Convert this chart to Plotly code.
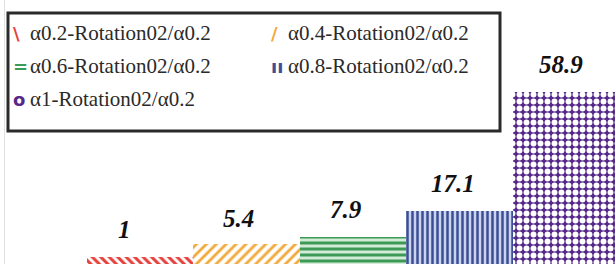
import plotly.graph_objects as go

categories = ["α0.2-Rotation02/α0.2", "α0.4-Rotation02/α0.2", "α0.6-Rotation02/α0.2",
              "α0.8-Rotation02/α0.2", "α1-Rotation02/α0.2"]
values = [1, 5.4, 7.9, 17.1, 58.9]
labels = ["1", "5.4", "7.9", "17.1", "58.9"]

BASE = -1.5  # bars start slightly below the visible baseline

fg_colors = ["#e5403a", "#f2a93b", "#3c9a56", "#3c4f96", "#ffffff"]
bg_colors = ["#ffffff", "#ffffff", "#d3ebd7", "#cbd4ec", "#55288a"]
shapes = ["\\", "/", "-", "|", "."]
sizes = [6, 7, 6, 5, 7]
solid = [0.5, 0.4, 0.5, 0.5, 0.55]
glyphs = ["\\", "/", "=", "ıı", "o"]
label_xshift = [-16, -8, -7, -7, -5]
label_yshift = [12, 10, 12, 12, 12]

fig = go.Figure()
for i, c in enumerate(categories):
    fig.add_trace(go.Bar(
        x=[c], y=[values[i] - BASE], base=BASE, name=c, showlegend=False,
        marker=dict(color=bg_colors[i], line=dict(width=0),
                    pattern=dict(shape=shapes[i], fgcolor=fg_colors[i], bgcolor=bg_colors[i],
                                 size=sizes[i], solidity=solid[i], fillmode="replace")),
    ))

for i, c in enumerate(categories):
    fig.add_annotation(x=c, y=values[i], text="<b><i>%s</i></b>" % labels[i], showarrow=False,
                       yanchor="bottom", yshift=label_yshift[i], xshift=label_xshift[i],
                       font=dict(family="Liberation Serif", size=25, color="#111"))

# legend box
fig.add_shape(type="rect", xref="paper", yref="paper", x0=(8 - 5) / 610, x1=(500 - 5) / 610,
              y0=1 - 131 / 264, y1=1 - 13 / 264, line=dict(color="#2a2a2a", width=3),
              fillcolor="rgba(0,0,0,0)", layer="above")

glyph_colors = ["#e5403a", "#f2a93b", "#3c9a56", "#3c4f96", "#55288a"]
col_x = [11, 269]
row_y = [33, 66, 99]
for i, c in enumerate(categories):
    col = i % 2
    row = i // 2
    gx = col_x[col]
    gy = row_y[row]
    fig.add_annotation(xref="paper", yref="paper", x=(gx - 5) / 610, y=1 - gy / 264,
                       text="<b>%s</b>" % glyphs[i], showarrow=False, xanchor="left", yanchor="middle",
                       font=dict(family="DejaVu Sans", size=18, color=glyph_colors[i]))
    fig.add_annotation(xref="paper", yref="paper", x=(gx + 17 - 5) / 610, y=1 - gy / 264,
                       text=c, showarrow=False, xanchor="left", yanchor="middle",
                       font=dict(family="Liberation Serif", size=21, color="#2a2a2a"))

fig.update_layout(
    width=615, height=264,
    margin=dict(l=5, r=0, t=0, b=0),
    paper_bgcolor="white", plot_bgcolor="white",
    bargap=0, barmode="overlay",
    showlegend=False,
    xaxis=dict(range=[-1.268, 4.46], showticklabels=False, showgrid=False, zeroline=False,
               showline=False, ticks=""),
    yaxis=dict(range=[BASE, 91.1], showticklabels=False, showgrid=False, zeroline=False,
               showline=True, linecolor="#e0e0e0", linewidth=1, ticks=""),
)

fig.write_html("out.html", config={"displayModeBar": False},
               post_script="document.body.style.margin='0';document.body.style.overflow='hidden';")
